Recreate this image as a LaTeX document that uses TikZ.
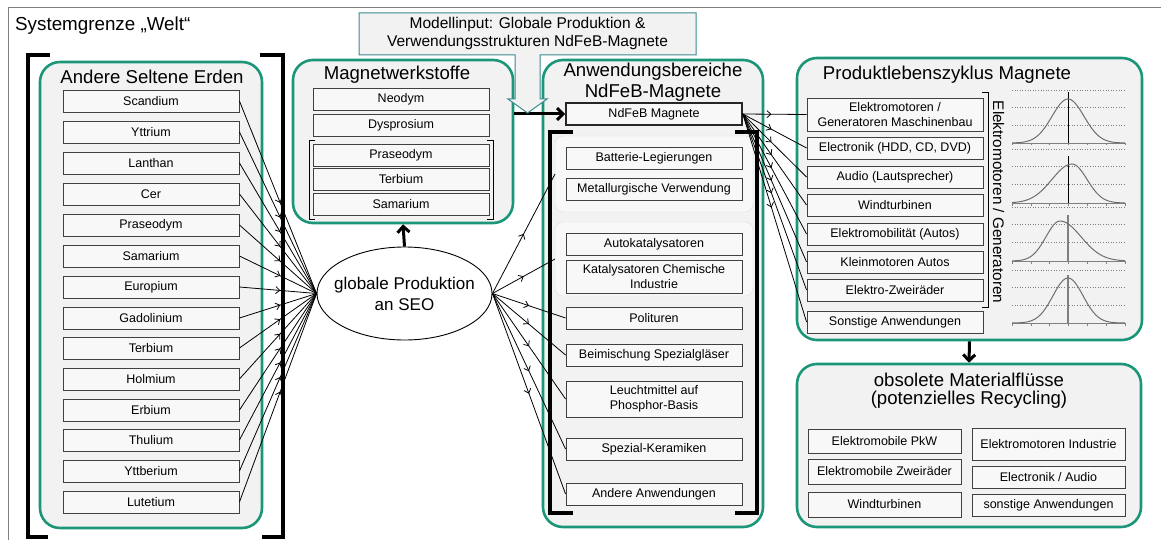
\documentclass[tikz,border=0pt]{standalone}
\usepackage{fontspec}
\setmainfont{Liberation Sans}
\usetikzlibrary{arrows.meta,decorations.markings,shapes.geometric}
\definecolor{grn}{RGB}{28,150,120}
\definecolor{panel}{RGB}{242,242,242}
\definecolor{cell}{RGB}{248,248,248}
\definecolor{cellline}{RGB}{64,64,64}
\definecolor{callout}{RGB}{60,140,140}
\definecolor{plotgray}{RGB}{110,110,110}
\tikzset{
  panelbox/.style={draw=grn, line width=2.6pt, fill=panel, rounded corners=20pt, inner sep=0pt},
  cellbox/.style={draw=cellline, line width=0.9pt, fill=cell, minimum width=176pt, minimum height=22pt, inner sep=0pt, font=\fontsize{12.5}{14.5}\selectfont, align=center},
  headtext/.style={font=\fontsize{18.6}{21}\selectfont, align=center, inner sep=0pt},
  conn/.style={line width=0.8pt, black},
  midarrow/.style={postaction={decorate}, decoration={markings, mark=at position #1 with {\arrow{Straight Barb[length=4pt,width=7pt]}}}},
  bracketline/.style={line width=4pt, black},
  thinbracket/.style={line width=1pt, black},
  dotline/.style={dotted, line width=0.6pt, gray},
  baseline/.style={line width=0.8pt, gray},
  curve/.style={line width=1pt, plotgray},
}
\begin{document}
\begin{tikzpicture}[x=1pt,y=-1pt]
\useasboundingbox (0,0) rectangle (1161,540);
\fill[white] (0,0) rectangle (1161,540);
% system boundary
\draw[gray, line width=1pt] (1170,8) -- (8,8) -- (8,550);
\node[anchor=west, font=\fontsize{18.8}{21}\selectfont, inner sep=0pt] (sysg) at (15,26) {Systemgrenze „Welt“};

% panels
\node[panelbox, minimum width=222pt, minimum height=466pt] (erden) at (151,295) {};
\node[panelbox, minimum width=220pt, minimum height=163pt] (mag) at (403,141.5) {};
\node[panelbox, minimum width=220pt, minimum height=467pt] (anw) at (653,293.5) {};
\node[panelbox, minimum width=345pt, minimum height=282pt] (prod) at (969.5,199) {};
\node[panelbox, minimum width=344pt, minimum height=163pt] (obs) at (969,445.5) {};

% headings
\node[headtext] (herden) at (152,77) {Andere Seltene Erden};
\node[headtext] (hmag) at (397,75) {Magnetwerkstoffe};
\node[headtext] (hanw) at (653,82.5) {Anwendungsbereiche\\NdFeB-Magnete};
\node[headtext] (hprod) at (947,75) {Produktlebenszyklus Magnete};
\node[headtext, font=\fontsize{18.6}{18}\selectfont] (hobs) at (969,391) {obsolete Materialflüsse\\(potenzielles Recycling)};

% big black brackets left
\draw[bracketline] (50,55) -- (28,55) -- (28,537) -- (48,537);
\draw[bracketline] (260,55) -- (283,55) -- (283,537) -- (262,537);

% element cells
\node[cellbox] (sc) at (151,101) {Scandium};
\node[cellbox] (y)  at (151,132) {Yttrium};
\node[cellbox] (la) at (151,163) {Lanthan};
\node[cellbox] (ce) at (151,194) {Cer};
\node[cellbox] (pr) at (151,225) {Praseodym};
\node[cellbox] (sm) at (151,256) {Samarium};
\node[cellbox] (eu) at (151,287) {Europium};
\node[cellbox] (gd) at (151,318) {Gadolinium};
\node[cellbox] (tb) at (151,348) {Terbium};
\node[cellbox] (ho) at (151,379) {Holmium};
\node[cellbox] (er) at (151,410) {Erbium};
\node[cellbox] (tm) at (151,440) {Thulium};
\node[cellbox] (yb) at (151,471) {Yttberium};
\node[cellbox] (lu) at (151,502) {Lutetium};

% magnet material cells
\node[cellbox] (mnd) at (401,99) {Neodym};
\node[cellbox] (mdy) at (401,125) {Dysprosium};
\node[cellbox] (mpr) at (401,155) {Praseodym};
\node[cellbox] (mtb) at (401,179) {Terbium};
\node[cellbox] (msm) at (401,204) {Samarium};
\draw[thinbracket] (315,141) -- (309,141) -- (309,219) -- (315,219);
\draw[thinbracket] (487,141) -- (493,141) -- (493,219) -- (487,219);

% ellipse
\node[ellipse, draw, line width=0.9pt, fill=white, minimum width=175pt, minimum height=93pt, inner xsep=-10pt, inner ysep=0pt, align=center, font=\fontsize{17}{21}\selectfont] (seo) at (404.5,293.5) {globale Produktion\\an SEO};

% application area
\draw[draw=gray!25, fill=cell, rounded corners=8pt] (555,136) rectangle (753,212);
\draw[draw=gray!25, fill=cell, rounded corners=8pt] (555,222) rectangle (753,296);
\coordinate (g1) at (555,174);
\coordinate (g2) at (555,259);
\draw[bracketline] (573,132) -- (550,132) -- (550,513) -- (573,513);
\draw[bracketline] (735,132) -- (757,132) -- (757,513) -- (735,513);
\node[cellbox, line width=1.6pt, draw=black!85] (ndfeb) at (654,114) {NdFeB Magnete};
\node[cellbox] (bat) at (654,158) {Batterie-Legierungen};
\node[cellbox] (met) at (654,189) {Metallurgische Verwendung};
\node[cellbox] (auto) at (654,244) {Autokatalysatoren};
\node[cellbox, minimum height=33pt] (kat) at (654,276.5) {Katalysatoren Chemische\\Industrie};
\node[cellbox] (pol) at (654,318) {Polituren};
\node[cellbox] (bei) at (654,355) {Beimischung Spezialgläser};
\node[cellbox, minimum height=36pt] (leu) at (654,399) {Leuchtmittel auf\\Phosphor-Basis};
\node[cellbox] (ker) at (654,449) {Spezial-Keramiken};
\node[cellbox] (and) at (654,494) {Andere Anwendungen};

% product life cycle cells
\node[cellbox, minimum height=33pt] (p1) at (895,114.5) {Elektromotoren /\\Generatoren Maschinenbau};
\node[cellbox] (p2) at (895,148) {Electronik (HDD, CD, DVD)};
\node[cellbox] (p3) at (895,177) {Audio (Lautsprecher)};
\node[cellbox] (p4) at (895,205) {Windturbinen};
\node[cellbox] (p5) at (895,234) {Elektromobilität (Autos)};
\node[cellbox] (p6) at (895,262) {Kleinmotoren Autos};
\node[cellbox] (p7) at (895,290) {Elektro-Zweiräder};
\node[cellbox] (p8) at (895,322) {Sonstige Anwendungen};
\draw[thinbracket] (982,93) -- (988,93) -- (988,307) -- (982,307);
\node[rotate=-90, inner sep=0pt, font=\fontsize{15.3}{17}\selectfont] (emg) at (998.5,202) {Elektromotoren / Generatoren};

% bell curve plots
\foreach \t/\b in {90/143,149/203,207/261,270/323}{
  \draw[dotline] (1012,\t) -- (1125,\t);
  \draw[dotline] (1012,\t+17.7) -- (1125,\t+17.7);
  \draw[dotline] (1012,\t+35.4) -- (1125,\t+35.4);
  \draw[baseline] (1012,\b) -- (1125,\b);
  \foreach \k in {0,...,6}{\draw[gray, line width=0.6pt] (1012+18.8*\k,\b) -- (1012+18.8*\k,\b+2.5);}
}
\draw[line width=0.8pt] (1068,92) -- (1068,143);
\draw[line width=0.8pt] (1068,156) -- (1068,203);
\draw[line width=1.5pt, gray] (1068,215) -- (1068,261);
\draw[line width=1.5pt, gray] (1068,275) -- (1068,323);
\draw[curve] plot[domain=1012:1125, samples=70] (\x, {143-44*exp(-((\x-1068)/16)^2/2)});
\draw[curve] plot[domain=1012:1072, samples=40] (\x, {203-39*exp(-((\x-1072)/20)^2/2)});
\draw[curve] plot[domain=1072:1125, samples=40] (\x, {203-39*exp(-((\x-1072)/15)^2/2)});
\draw[curve] plot[domain=1012:1060, samples=40] (\x, {261-40*exp(-((\x-1060)/14)^2/2)});
\draw[curve] plot[domain=1060:1125, samples=40] (\x, {261-40*exp(-((\x-1060)/21)^2/2)});
\draw[curve] plot[domain=1012:1125, samples=70] (\x, {323-45*exp(-((\x-1068)/15)^2/2)});

% obsolete cells
\node[cellbox, minimum width=153pt, minimum height=24pt] (o1) at (884.5,441) {Elektromobile PkW};
\node[cellbox, minimum width=153pt, minimum height=25pt] (o2) at (884.5,471.5) {Elektromobile Zweiräder};
\node[cellbox, minimum width=153pt, minimum height=25pt] (o3) at (884.5,504.5) {Windturbinen};
\node[cellbox, minimum width=153pt, minimum height=32pt] (o4) at (1048.5,444) {Elektromotoren Industrie};
\node[cellbox, minimum width=153pt] (o5) at (1048.5,477) {Electronik / Audio};
\node[cellbox, minimum width=153pt] (o6) at (1048.5,505) {sonstige Anwendungen};

% connectors: elements -> SEO
\foreach \n in {sc,y,la,ce,pr,sm,eu,gd,tb,ho,er,tm,yb,lu}{
  \draw[conn, midarrow=0.53] (\n.east) -- (seo.west);
}
% SEO -> applications
\foreach \n in {g1,g2,pol.west,bei.west,leu.west,ker.west,and.west}{
  \draw[conn, midarrow=0.5] (seo.east) -- (\n);
}
% NdFeB -> product cells
\foreach \n in {p1,p2,p3,p4,p5,p6,p7,p8}{
  \draw[conn, midarrow=0.45] (ndfeb.east) -- (\n.west);
}
% thick arrows
\draw[line width=3pt, -{Straight Barb[length=6pt,width=12pt,line width=3pt]}] (seo.north) -- (mag.south);
\draw[line width=3pt, -{Straight Barb[length=6pt,width=12pt,line width=3pt]}] (mag.east |- ndfeb.west) -- (ndfeb.west);
\draw[line width=3pt, -{Straight Barb[length=6pt,width=12pt,line width=3pt]}] (prod.south) -- (obs.north);

% model input callout
\draw[fill=panel, draw=callout, line width=1pt] (359,13) -- (696,13) -- (696,55) -- (540,55) -- (540,99) -- (547,99) -- (527.5,113) -- (508,99) -- (515,99) -- (515,55) -- (359,55) -- cycle;
\node[font=\fontsize{15.5}{18}\selectfont, align=center, inner sep=0pt] (modin) at (527.5,33) {Modellinput: Globale Produktion \&\\Verwendungsstrukturen NdFeB-Magnete};
\end{tikzpicture}
\end{document}
